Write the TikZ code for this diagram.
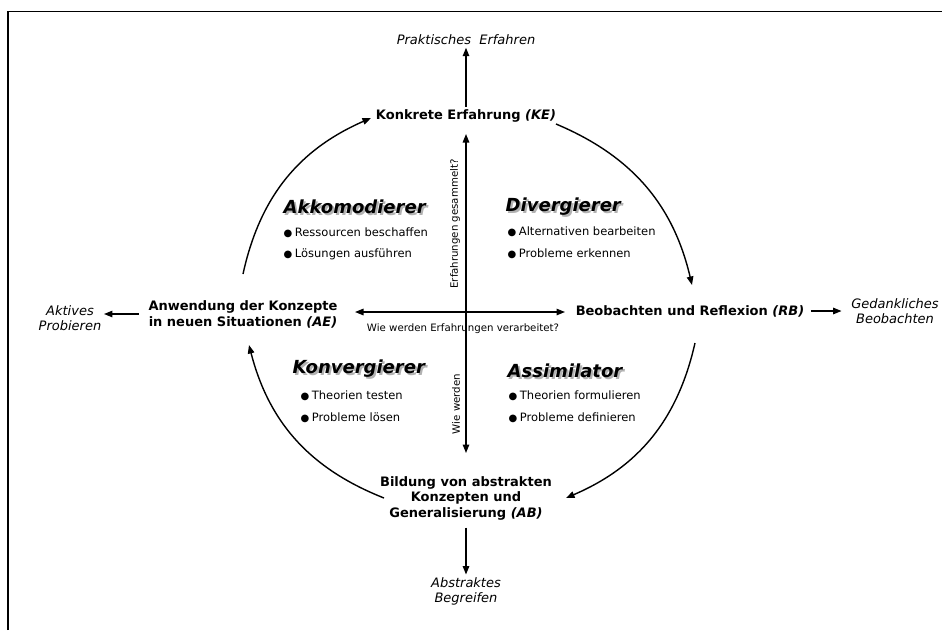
\documentclass[tikz,border=0pt]{standalone}
\usepackage{fontspec}
\setmainfont{DejaVu Sans}
\usetikzlibrary{arrows.meta}
\begin{document}
\begin{tikzpicture}[x=1pt,y=-1pt,
  line width=1.4pt,
  tip/.style={-{Triangle[length=8.5pt,width=6.5pt]}},
  twotip/.style={{Triangle[length=8.5pt,width=6.5pt]}-{Triangle[length=8.5pt,width=6.5pt]}},
  stage/.style={font=\bfseries\fontsize{13}{16}\selectfont, align=center, inner sep=2pt},
  mode/.style={font=\itshape\fontsize{13}{15}\selectfont, align=center, inner sep=2pt},
  question/.style={font=\fontsize{10.2}{12}\selectfont, inner sep=1pt},
  styletitle/.style={font=\bfseries\itshape\fontsize{18}{20}\selectfont, anchor=west, inner sep=0pt},
  traititem/.style={font=\fontsize{11.5}{14}\selectfont, anchor=west, inner sep=0pt},
]
\newcommand\mybullet{{\fontsize{10}{10}\selectfont ●}\hspace{2.5pt}}
% text with a grey drop shadow behind it
\newcommand\shadowed[1]{%
  \rlap{\hspace{2pt}\raisebox{-2pt}{\textcolor{black!30}{#1}}}%
  #1}

\useasboundingbox (0,0) rectangle (942,630);
\fill[white] (0,0) rectangle (942,630);

% frame
\draw[line width=1.2pt] (8,630) -- (8,11.5) -- (942,11.5);

% the four stages
\node[stage] (KE) at (466,116) {Konkrete Erfahrung \textit{(KE)}};
\node[stage] (RB) at (690,311) {Beobachten und Reflexion \textit{(RB)}};
\node[stage] (AE) at (243,314) {Anwendung der Konzepte\\in neuen Situationen \textit{(AE)}};
\node[stage, font=\bfseries\fontsize{13}{15.5}\selectfont] (AB) at (466,498)
  {Bildung von abstrakten\\Konzepten und\\Generalisierung \textit{(AB)}};

% outer modes
\node[mode] (PE) at (466,40) {Praktisches\ \ Erfahren};
\node[mode] (GB) at (895,311) {Gedankliches\\Beobachten};
\node[mode] (AP) at (70,318) {Aktives\\Probieren};
\node[mode] (AbB) at (466,591) {Abstraktes\\Begreifen};

\draw[tip] (KE.north) -- (PE.south);
\draw[tip, shorten <=4pt, shorten >=7pt] (RB.east) -- (RB.east -| GB.west);
\draw[tip, shorten <=7pt] (AE.west) -- (AE.west -| AP.east);
\draw[tip, shorten <=5pt] (AB.south) -- (AbB.north);

% cycle arcs
\coordinate (c1s) at (243,274); \coordinate (c1e) at (371,118);
\coordinate (c2s) at (556,124); \coordinate (c2e) at (692,285);
\coordinate (c3s) at (695,343); \coordinate (c3e) at (566,498);
\coordinate (c4s) at (384,498); \coordinate (c4e) at (249,345);
\draw[tip] (c1s) to[bend left=27] (c1e);
\draw[tip] (c2s) to[bend left=27] (c2e);
\draw[tip] (c3s) to[bend left=27] (c3e);
\draw[tip] (c4s) to[bend left=27] (c4e);

% axes
\coordinate (axT) at (466,134); \coordinate (axB) at (466,453);
\coordinate (axL) at (355,312); \coordinate (axR) at (565,312);
\draw[twotip] (axT) -- (axB);
\draw[twotip] (axL) -- (axR);
\node[question] (qH) at (463,329) {Wie werden Erfahrungen verarbeitet?};
\node[question, rotate=90] (qV1) at (455,224) {Erfahrungen gesammelt?};
\node[question, rotate=90] (qV2) at (456,404) {Wie werden};

% learning styles
\node[styletitle] (tAkk) at (283,208) {\shadowed{Akkomodierer}};
\node[traititem] (akk1) at (283,233) {\mybullet Ressourcen beschaffen};
\node[traititem] (akk2) at (283,254) {\mybullet Lösungen ausführen};

\node[styletitle] (tDiv) at (505,208) {\shadowed{Divergierer}};
\node[traititem] (div1) at (507,232) {\mybullet Alternativen bearbeiten};
\node[traititem] (div2) at (507,254) {\mybullet Probleme erkennen};

\node[styletitle] (tKon) at (292,370) {\shadowed{Konvergierer}};
\node[traititem] (kon1) at (300,396) {\mybullet Theorien testen};
\node[traititem] (kon2) at (300,418) {\mybullet Probleme lösen};

\node[styletitle] (tAss) at (507,372) {\shadowed{Assimilator}};
\node[traititem] (ass1) at (508,396) {\mybullet Theorien formulieren};
\node[traititem] (ass2) at (508,418) {\mybullet Probleme definieren};
\end{tikzpicture}
\end{document}
